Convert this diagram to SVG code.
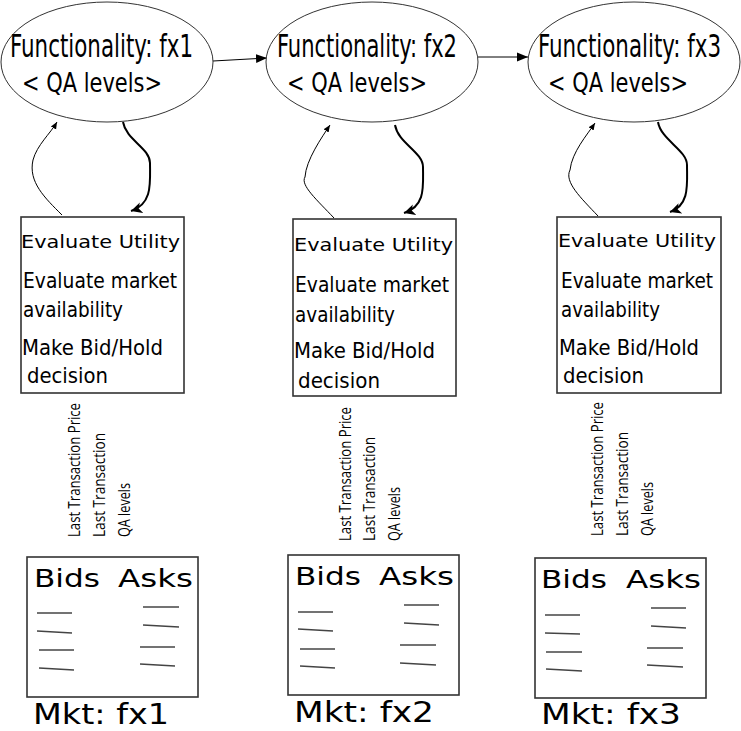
<svg xmlns="http://www.w3.org/2000/svg" width="741" height="731" viewBox="0 0 741 731">
<style>
.ell{fill:#fff;stroke:#333;stroke-width:1}
.box{fill:#fff;stroke:#333;stroke-width:1.6}
.t1{font-family:"DejaVu Sans Condensed","DejaVu Sans",sans-serif;fill:#000}
.t2{font-family:"DejaVu Sans",sans-serif;fill:#000}
.conn{fill:none;stroke:#000}
.up{stroke-width:1}
.dn{stroke-width:2}
.mk{stroke:#444;stroke-width:1.3}
.rot{font-family:"Open Sans","DejaVu Sans Condensed",sans-serif;font-size:16px;fill:#000}
</style>
<defs>
<marker id="aS" markerUnits="userSpaceOnUse" markerWidth="8" markerHeight="8" refX="7" refY="4" orient="auto"><path d="M0,1 L7,4 L0,7 z" fill="#000"/></marker>
<marker id="aD" markerUnits="userSpaceOnUse" markerWidth="14" markerHeight="14" refX="11" refY="7" orient="auto"><path d="M0,1.5 L11,7 L0,12.5 L3,7 z" fill="#000"/></marker>
<marker id="aH" markerUnits="userSpaceOnUse" markerWidth="14" markerHeight="12" refX="11" refY="6" orient="auto"><path d="M0,1.5 L11,6 L0,10.5 z" fill="#000"/></marker>
</defs>

<g id="connectors">
<path class="conn" d="M213,61 L267,58" stroke-width="1" marker-end="url(#aH)"/>
<path class="conn" d="M478,57 L528,57" stroke-width="1" marker-end="url(#aH)"/>
<path class="conn up" d="M62,215 C45,198 28,182 33,160 C37,145 50,134 57,122" marker-end="url(#aS)"/>
<path class="conn dn" d="M123,122 C126,140 150,148 150,163 C150,182 153,204 131,211" marker-end="url(#aD)"/>
<path class="conn up" d="M334,218 C317,200 300,185 305,177 C306,160 322,137 330,125" marker-end="url(#aS)"/>
<path class="conn dn" d="M395,125 C398,143 423,152 423,167 C423,186 426,206 404,213" marker-end="url(#aD)"/>
<path class="conn up" d="M598,216 C581,198 564,182 570,170 C572,152 587,135 595,123" marker-end="url(#aS)"/>
<path class="conn dn" d="M658,122 C661,140 687,150 687,165 C687,184 690,205 670,212" marker-end="url(#aD)"/>
</g>

<g id="fx1">
<ellipse class="ell" cx="107" cy="62" rx="106" ry="60"/>
<text class="t1" x="10" y="57" font-size="32" textLength="183" lengthAdjust="spacingAndGlyphs">Functionality: fx1</text>
<text class="t1" x="22" y="92" font-size="26" textLength="140" lengthAdjust="spacingAndGlyphs">&lt; QA levels&gt;</text>
</g>
<g id="fx2">
<ellipse class="ell" cx="372" cy="62" rx="106" ry="60"/>
<text class="t1" x="277" y="57" font-size="32" textLength="180" lengthAdjust="spacingAndGlyphs">Functionality: fx2</text>
<text class="t1" x="287" y="92" font-size="26" textLength="140" lengthAdjust="spacingAndGlyphs">&lt; QA levels&gt;</text>
</g>
<g id="fx3">
<ellipse class="ell" cx="634" cy="62" rx="106" ry="60"/>
<text class="t1" x="538" y="57" font-size="32" textLength="183" lengthAdjust="spacingAndGlyphs">Functionality: fx3</text>
<text class="t1" x="548" y="92" font-size="26" textLength="140" lengthAdjust="spacingAndGlyphs">&lt; QA levels&gt;</text>
</g>

<g id="agent1">
<rect class="box" x="21" y="217" width="163" height="176"/>
<text class="t2" x="21" y="248" font-size="18" textLength="159" lengthAdjust="spacingAndGlyphs">Evaluate Utility</text>
<text class="t1" x="23" y="288" font-size="21" textLength="154" lengthAdjust="spacingAndGlyphs">Evaluate market</text>
<text class="t1" x="23" y="317" font-size="21" textLength="100" lengthAdjust="spacingAndGlyphs">availability</text>
<text class="t1" x="22" y="355" font-size="21" textLength="141" lengthAdjust="spacingAndGlyphs">Make Bid/Hold</text>
<text class="t1" x="27" y="383" font-size="21" textLength="81" lengthAdjust="spacingAndGlyphs">decision</text>
</g>
<g id="agent2">
<rect class="box" x="293" y="219" width="163" height="177"/>
<text class="t2" x="294" y="251" font-size="18" textLength="159" lengthAdjust="spacingAndGlyphs">Evaluate Utility</text>
<text class="t1" x="295" y="292" font-size="21" textLength="154" lengthAdjust="spacingAndGlyphs">Evaluate market</text>
<text class="t1" x="295" y="322" font-size="21" textLength="100" lengthAdjust="spacingAndGlyphs">availability</text>
<text class="t1" x="294" y="358" font-size="21" textLength="141" lengthAdjust="spacingAndGlyphs">Make Bid/Hold</text>
<text class="t1" x="298" y="388" font-size="21" textLength="82" lengthAdjust="spacingAndGlyphs">decision</text>
</g>
<g id="agent3">
<rect class="box" x="557" y="217" width="164" height="176"/>
<text class="t2" x="558" y="247" font-size="18" textLength="158" lengthAdjust="spacingAndGlyphs">Evaluate Utility</text>
<text class="t1" x="561" y="288" font-size="21" textLength="152" lengthAdjust="spacingAndGlyphs">Evaluate market</text>
<text class="t1" x="561" y="317" font-size="21" textLength="99" lengthAdjust="spacingAndGlyphs">availability</text>
<text class="t1" x="559" y="355" font-size="21" textLength="140" lengthAdjust="spacingAndGlyphs">Make Bid/Hold</text>
<text class="t1" x="563" y="383" font-size="21" textLength="81" lengthAdjust="spacingAndGlyphs">decision</text>
</g>

<g id="info1">
<text class="rot" transform="translate(80,537) rotate(-90)" textLength="134" lengthAdjust="spacingAndGlyphs">Last Transaction Price</text>
<text class="rot" transform="translate(105,537) rotate(-90)" textLength="104" lengthAdjust="spacingAndGlyphs">Last Transaction</text>
<text class="rot" transform="translate(130,537) rotate(-90)" textLength="54" lengthAdjust="spacingAndGlyphs">QA levels</text>
</g>
<g id="info2">
<text class="rot" transform="translate(351,541) rotate(-90)" textLength="134" lengthAdjust="spacingAndGlyphs">Last Transaction Price</text>
<text class="rot" transform="translate(375,541) rotate(-90)" textLength="104" lengthAdjust="spacingAndGlyphs">Last Transaction</text>
<text class="rot" transform="translate(400,541) rotate(-90)" textLength="54" lengthAdjust="spacingAndGlyphs">QA levels</text>
</g>
<g id="info3">
<text class="rot" transform="translate(603,536) rotate(-90)" textLength="134" lengthAdjust="spacingAndGlyphs">Last Transaction Price</text>
<text class="rot" transform="translate(628,536) rotate(-90)" textLength="104" lengthAdjust="spacingAndGlyphs">Last Transaction</text>
<text class="rot" transform="translate(653,536) rotate(-90)" textLength="54" lengthAdjust="spacingAndGlyphs">QA levels</text>
</g>

<g id="mkt1">
<rect class="box" x="27" y="557" width="171" height="140"/>
<text class="t2" x="34" y="587" font-size="25" textLength="66" lengthAdjust="spacingAndGlyphs">Bids</text>
<text class="t2" x="118" y="587" font-size="25" textLength="75" lengthAdjust="spacingAndGlyphs">Asks</text>
<line class="mk" x1="37" y1="613" x2="72" y2="613"/>
<line class="mk" x1="37" y1="631" x2="72" y2="633"/>
<line class="mk" x1="39" y1="650" x2="74" y2="650"/>
<line class="mk" x1="39" y1="668" x2="74" y2="670"/>
<line class="mk" x1="143" y1="607" x2="179" y2="607"/>
<line class="mk" x1="143" y1="625" x2="179" y2="627"/>
<line class="mk" x1="140" y1="647" x2="175" y2="647"/>
<line class="mk" x1="140" y1="664" x2="175" y2="666"/>
<text class="t2" x="33" y="724" font-size="28" textLength="136" lengthAdjust="spacingAndGlyphs">Mkt: fx1</text>
</g>
<g id="mkt2">
<rect class="box" x="288" y="555" width="171" height="140"/>
<text class="t2" x="295" y="585" font-size="25" textLength="66" lengthAdjust="spacingAndGlyphs">Bids</text>
<text class="t2" x="379" y="585" font-size="25" textLength="75" lengthAdjust="spacingAndGlyphs">Asks</text>
<line class="mk" x1="298" y1="612" x2="333" y2="612"/>
<line class="mk" x1="298" y1="629" x2="333" y2="631"/>
<line class="mk" x1="300" y1="649" x2="335" y2="649"/>
<line class="mk" x1="300" y1="666" x2="335" y2="668"/>
<line class="mk" x1="404" y1="605" x2="439" y2="605"/>
<line class="mk" x1="404" y1="623" x2="439" y2="625"/>
<line class="mk" x1="400" y1="645" x2="436" y2="645"/>
<line class="mk" x1="400" y1="663" x2="436" y2="665"/>
<text class="t2" x="294" y="722" font-size="28" textLength="140" lengthAdjust="spacingAndGlyphs">Mkt: fx2</text>
</g>
<g id="mkt3">
<rect class="box" x="535" y="558" width="171" height="140"/>
<text class="t2" x="541" y="588" font-size="25" textLength="66" lengthAdjust="spacingAndGlyphs">Bids</text>
<text class="t2" x="626" y="588" font-size="25" textLength="75" lengthAdjust="spacingAndGlyphs">Asks</text>
<line class="mk" x1="545" y1="615" x2="580" y2="615"/>
<line class="mk" x1="545" y1="633" x2="580" y2="634"/>
<line class="mk" x1="546" y1="652" x2="582" y2="652"/>
<line class="mk" x1="546" y1="669" x2="582" y2="671"/>
<line class="mk" x1="651" y1="608" x2="686" y2="608"/>
<line class="mk" x1="651" y1="626" x2="686" y2="628"/>
<line class="mk" x1="647" y1="648" x2="683" y2="648"/>
<line class="mk" x1="647" y1="665" x2="683" y2="667"/>
<text class="t2" x="541" y="724" font-size="28" textLength="140" lengthAdjust="spacingAndGlyphs">Mkt: fx3</text>
</g>
</svg>
